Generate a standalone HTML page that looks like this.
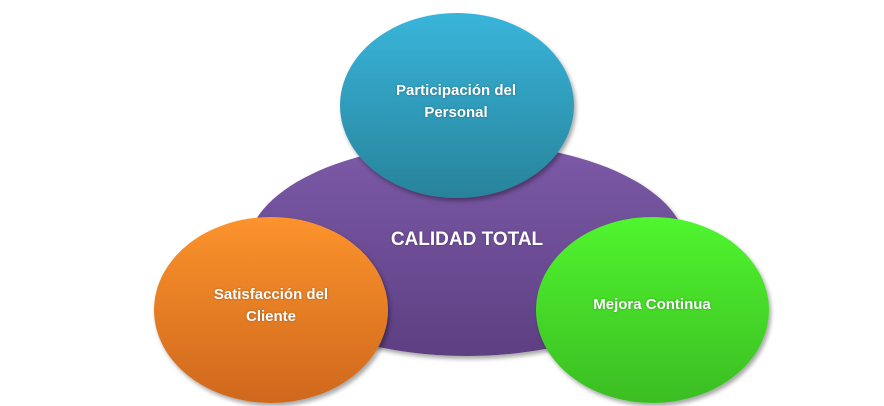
<!DOCTYPE html>
<html><head><style>
body{margin:0;width:884px;height:406px;background:#fff;position:relative;overflow:hidden;font-family:"Liberation Sans",sans-serif;}
.e{position:absolute;border-radius:50%;box-shadow:2px 3px 4px rgba(0,0,0,0.35);}
.t{position:absolute;color:#fff;font-weight:bold;text-align:center;line-height:22px;font-size:15px;text-shadow:0 0 2px rgba(0,0,0,0.3);white-space:nowrap;}
</style></head><body>
<div class="e" style="left:247px;top:143px;width:440px;height:213px;background:linear-gradient(#7c5aa8,#5e3f82);"></div>
<div class="e" style="left:340px;top:13px;width:234px;height:185px;background:linear-gradient(#39b5da,#27839b);"></div>
<div class="e" style="left:154px;top:217px;width:234px;height:186px;background:linear-gradient(#fc932c,#cf681d);"></div>
<div class="e" style="left:536px;top:217px;width:233px;height:186px;background:linear-gradient(#50f52f,#3bbd22);"></div>
<div class="t" style="left:347px;top:229px;width:240px;font-size:19px;">CALIDAD TOTAL</div>
<div class="t" style="left:336px;top:80px;width:240px;">Participación del<br>Personal</div>
<div class="t" style="left:151px;top:284px;width:240px;">Satisfacción del<br>Cliente</div>
<div class="t" style="left:532px;top:294px;width:240px;">Mejora Continua</div>
</body></html>
